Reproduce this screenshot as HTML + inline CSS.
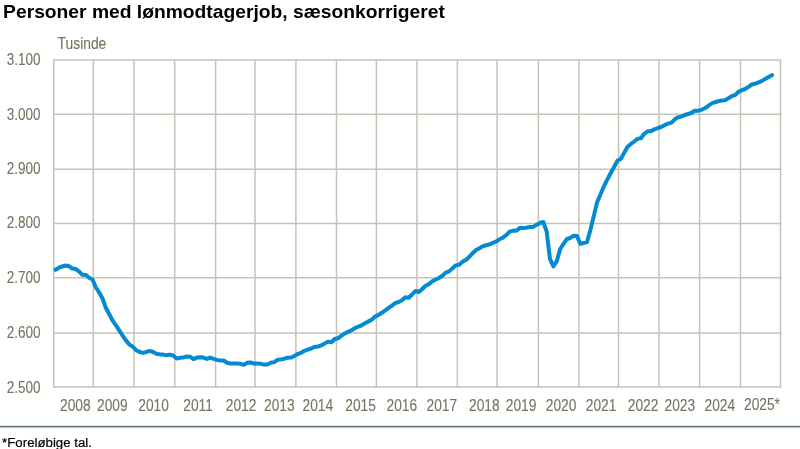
<!DOCTYPE html>
<html lang="da"><head><meta charset="utf-8"><title>Personer med lønmodtagerjob, sæsonkorrigeret</title>
<style>html,body{margin:0;padding:0;background:#fff;}svg{display:block;}text{font-family:"Liberation Sans",Arial,sans-serif;}.n{font-size:16.3px;fill:#76735f;stroke:#76735f;stroke-width:0.1px;}</style></head><body>
<svg width="800" height="449" viewBox="0 0 800 449">
<rect width="800" height="449" fill="#fff"/>
<text x="3.1" y="17.8" font-size="19.25px" font-weight="bold" fill="#000">Personer med lønmodtagerjob, sæsonkorrigeret</text>
<g stroke="#c5c3b7" stroke-width="1.5" fill="none">
<line x1="53.80" y1="60.0" x2="53.80" y2="387.0"/>
<line x1="93.35" y1="60.0" x2="93.35" y2="387.0"/>
<line x1="134.00" y1="60.0" x2="134.00" y2="387.0"/>
<line x1="174.70" y1="60.0" x2="174.70" y2="387.0"/>
<line x1="215.60" y1="60.0" x2="215.60" y2="387.0"/>
<line x1="255.00" y1="60.0" x2="255.00" y2="387.0"/>
<line x1="295.90" y1="60.0" x2="295.90" y2="387.0"/>
<line x1="336.50" y1="60.0" x2="336.50" y2="387.0"/>
<line x1="376.40" y1="60.0" x2="376.40" y2="387.0"/>
<line x1="416.90" y1="60.0" x2="416.90" y2="387.0"/>
<line x1="457.35" y1="60.0" x2="457.35" y2="387.0"/>
<line x1="497.10" y1="60.0" x2="497.10" y2="387.0"/>
<line x1="538.40" y1="60.0" x2="538.40" y2="387.0"/>
<line x1="578.90" y1="60.0" x2="578.90" y2="387.0"/>
<line x1="618.50" y1="60.0" x2="618.50" y2="387.0"/>
<line x1="659.00" y1="60.0" x2="659.00" y2="387.0"/>
<line x1="699.60" y1="60.0" x2="699.60" y2="387.0"/>
<line x1="740.50" y1="60.0" x2="740.50" y2="387.0"/>
<line x1="780.50" y1="60.0" x2="780.50" y2="387.0"/>
<line x1="53.05" y1="60.0" x2="781.25" y2="60.0"/>
<line x1="53.05" y1="114.2" x2="781.25" y2="114.2"/>
<line x1="53.05" y1="169.35" x2="781.25" y2="169.35"/>
<line x1="53.05" y1="223.55" x2="781.25" y2="223.55"/>
<line x1="53.05" y1="277.7" x2="781.25" y2="277.7"/>
<line x1="53.05" y1="332.9" x2="781.25" y2="332.9"/>
<line x1="53.05" y1="387.0" x2="781.25" y2="387.0"/>
</g>
<text class="n" transform="translate(6.8,64.5) scale(0.83,1)">3.100</text>
<text class="n" transform="translate(6.8,119.5) scale(0.83,1)">3.000</text>
<text class="n" transform="translate(6.8,173.8) scale(0.83,1)">2.900</text>
<text class="n" transform="translate(6.8,228.0) scale(0.83,1)">2.800</text>
<text class="n" transform="translate(6.8,283.2) scale(0.83,1)">2.700</text>
<text class="n" transform="translate(6.8,337.5) scale(0.83,1)">2.600</text>
<text class="n" transform="translate(6.8,392.5) scale(0.83,1)">2.500</text>
<text class="n" transform="translate(57.6,49.1) scale(0.85,1)">Tusinde</text>
<text class="n" transform="translate(60.00,410.8) scale(0.845,1)">2008</text>
<text class="n" transform="translate(97.00,410.8) scale(0.845,1)">2009</text>
<text class="n" transform="translate(138.25,410.8) scale(0.845,1)">2010</text>
<text class="n" transform="translate(183.25,410.8) scale(0.845,1)">2011</text>
<text class="n" transform="translate(225.75,410.8) scale(0.845,1)">2012</text>
<text class="n" transform="translate(264.00,410.8) scale(0.845,1)">2013</text>
<text class="n" transform="translate(302.50,410.8) scale(0.845,1)">2014</text>
<text class="n" transform="translate(345.25,410.8) scale(0.845,1)">2015</text>
<text class="n" transform="translate(386.50,410.8) scale(0.845,1)">2016</text>
<text class="n" transform="translate(426.50,410.8) scale(0.845,1)">2017</text>
<text class="n" transform="translate(469.00,410.8) scale(0.845,1)">2018</text>
<text class="n" transform="translate(505.75,410.8) scale(0.845,1)">2019</text>
<text class="n" transform="translate(545.75,410.8) scale(0.845,1)">2020</text>
<text class="n" transform="translate(585.75,410.8) scale(0.845,1)">2021</text>
<text class="n" transform="translate(627.75,410.8) scale(0.845,1)">2022</text>
<text class="n" transform="translate(664.50,410.8) scale(0.845,1)">2023</text>
<text class="n" transform="translate(704.50,410.8) scale(0.845,1)">2024</text>
<text class="n" transform="translate(744,410.1) scale(0.845,1)">2025*</text>
<polyline points="55.5,269.8 58.8,267.7 62.2,266.5 65.6,265.5 68.9,266.2 72.3,268.5 75.7,269.0 79.0,271.3 82.4,274.8 85.8,274.9 89.1,277.7 92.5,279.5 95.9,287.5 99.2,292.5 102.6,298.8 105.9,308.0 109.3,314.3 112.7,320.7 116.0,325.4 119.4,330.6 122.8,335.8 126.1,340.6 129.5,344.6 132.9,346.8 136.2,350.2 139.6,352.0 143.0,352.9 146.3,352.0 149.7,350.9 153.0,352.0 156.4,353.7 159.8,354.4 163.1,354.6 166.5,355.3 169.9,354.6 173.2,355.6 176.6,358.6 180.0,357.8 183.3,357.6 186.7,356.4 190.1,356.7 193.4,359.1 196.8,357.6 200.1,357.3 203.5,357.6 206.9,358.9 210.2,357.6 213.6,358.9 217.0,359.9 220.3,360.6 223.7,360.5 227.1,362.7 230.4,363.6 233.8,363.6 237.2,363.6 240.5,363.8 243.9,364.8 247.3,362.8 250.6,362.5 254.0,363.6 257.3,363.5 260.7,363.8 264.1,364.6 267.4,364.6 270.8,362.6 274.2,362.3 277.5,359.7 280.9,359.4 284.3,358.7 287.6,357.7 291.0,357.6 294.4,356.0 297.7,354.0 301.1,352.9 304.4,350.8 307.8,349.6 311.2,348.5 314.5,346.9 317.9,346.5 321.3,345.4 324.6,343.6 328.0,341.6 331.4,342.3 334.7,339.0 338.1,338.3 341.5,335.7 344.8,333.3 348.2,331.9 351.5,330.2 354.9,328.1 358.3,326.7 361.6,325.3 365.0,323.3 368.4,321.4 371.7,319.7 375.1,316.6 378.5,314.9 381.8,312.8 385.2,310.3 388.6,308.0 391.9,305.7 395.3,303.2 398.6,302.0 402.0,300.3 405.4,297.3 408.7,297.8 412.1,294.5 415.5,290.9 418.8,292.0 422.2,289.0 425.6,285.8 428.9,284.1 432.3,281.3 435.7,279.5 439.0,278.0 442.4,275.8 445.7,272.6 449.1,271.4 452.5,268.2 455.8,265.4 459.2,264.8 462.6,261.6 465.9,260.0 469.3,256.8 472.7,253.2 476.0,250.0 479.4,248.3 482.8,246.2 486.1,245.3 489.5,244.3 492.8,242.9 496.2,241.5 499.6,239.2 502.9,237.6 506.3,235.0 509.7,231.6 513.0,230.6 516.4,230.7 519.8,227.9 523.1,227.9 526.5,227.8 529.9,226.9 533.2,226.9 536.6,224.8 539.9,222.9 543.3,222.0 546.7,231.7 550.0,259.1 553.4,266.4 556.8,261.1 560.1,249.3 563.5,243.8 566.9,239.0 570.2,238.0 573.6,235.7 577.0,236.1 580.3,243.7 583.7,243.0 587.0,242.1 590.4,230.0 593.8,215.9 597.1,202.3 600.5,194.3 603.9,186.4 607.2,179.7 610.6,173.3 614.0,167.2 617.3,160.8 620.7,159.0 624.1,153.0 627.4,147.1 630.8,144.0 634.2,141.5 637.5,138.9 640.9,138.3 644.2,133.8 647.6,131.3 651.0,131.2 654.3,129.3 657.7,128.2 661.1,127.0 664.4,125.3 667.8,123.6 671.2,122.9 674.5,119.7 677.9,117.2 681.3,116.6 684.6,115.0 688.0,114.0 691.3,113.0 694.7,110.8 698.1,110.8 701.4,109.8 704.8,108.2 708.2,106.0 711.5,103.5 714.9,102.2 718.3,101.3 721.6,100.4 725.0,100.2 728.4,98.3 731.7,96.2 735.1,95.1 738.4,91.9 741.8,90.2 745.2,89.0 748.5,86.9 751.9,84.5 755.3,83.6 758.6,82.4 762.0,80.9 765.4,78.9 768.7,77.0 772.1,75.1" fill="none" stroke="#0489d3" stroke-width="4" stroke-linejoin="round" stroke-linecap="round"/>
<line x1="0" y1="426.6" x2="800" y2="426.6" stroke="#55676f" stroke-width="3.4" stroke-opacity="0.16"/><line x1="0" y1="426.7" x2="800" y2="426.7" stroke="#596b74" stroke-width="1.25"/>
<text x="2.1" y="446.5" font-size="13.25px" fill="#000" stroke="#000" stroke-width="0.2">*Foreløbige tal.</text>
</svg></body></html>
